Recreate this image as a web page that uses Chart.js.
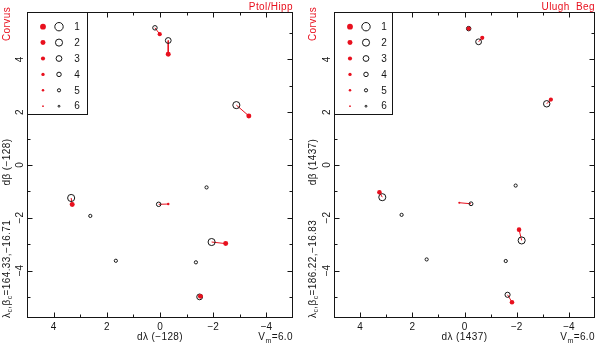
<!DOCTYPE html>
<html><head><meta charset="utf-8">
<script src="https://cdn.jsdelivr.net/npm/chart.js@4.4.1/dist/chart.umd.min.js"></script>
<style>
html,body{margin:0;padding:0;background:#fff;}
#wrap{position:relative;width:600px;height:345px;overflow:hidden;}
canvas{position:absolute;top:0;}
#c1{left:0;} #c2{left:300px;}
</style></head><body>
<div id="wrap"><canvas id="c1" width="300" height="345"></canvas><canvas id="c2" width="300" height="345"></canvas></div>
<script>
// ---------- data ----------
const legendMagnitudes = [1, 2, 3, 4, 5, 6];

// Ptolemy / Hipparchus panel: modern (open circles) and catalogue (red) positions
const ptolModernX = [0.19, -0.31, -2.87, 3.34, 2.62, 0.05, -1.75, -1.94, 1.66, -1.35, -1.49];
const ptolModernY = [5.20, 4.72, 2.27, -1.25, -1.93, -1.49, -0.85, -2.92, -3.63, -3.69, -5.00];
const ptolModernMag = [4, 3, 2, 2, 5, 4, 5, 2, 5, 5, 3];
const ptolCatX = [0.01, -0.31, -3.34, 3.30, -0.31, -2.47, -1.52];
const ptolCatY = [4.96, 4.20, 1.86, -1.50, -1.48, -2.98, -4.98];
const ptolCatMag = [3, 2, 2, 2, 5, 2, 2];
const ptolPairIdx = [0, 1, 2, 3, 5, 7, 10];

// Ulugh Beg panel
const ubModernX = [-0.16, -0.54, -3.15, 3.15, 2.41, -0.25, -1.96, -2.19, 1.45, -1.58, -1.65];
const ubModernY = [5.17, 4.67, 2.32, -1.22, -1.89, -1.47, -0.78, -2.86, -3.58, -3.64, -4.92];
const ubModernMag = [4, 3, 2.5, 2, 5, 4.5, 5, 2, 5, 5, 3.5];
const ubCatX = [-0.16, -0.68, -3.31, 3.26, 0.20, -2.09, -1.82];
const ubCatY = [5.17, 4.82, 2.48, -1.03, -1.43, -2.45, -5.20];
const ubCatMag = [3, 3, 3, 2.5, 5.5, 2.5, 2.5];
const ubPairIdx = [0, 1, 2, 3, 5, 7, 10];

// ---------- styling ----------
const RED = '#e8101e';
const INK = '#151515';
const FONT = '"Liberation Sans", Arial, Helvetica, sans-serif';
const openR = m => 4.2 - 0.65 * (m - 1);
const redR = m => 2.9 - 0.41 * (m - 1);
const fmt = v => (v < 0 ? '\u2212' + Math.abs(v) : String(v));

function buildDatasets(mx, my, mm, cx, cy, cm, pairs) {
  const ds = [];
  ds.push({
    data: cx.map((x, i) => ({x, y: cy[i]})),
    pointRadius: cm.map(redR), pointBackgroundColor: RED, pointBorderWidth: 0,
    pointBorderColor: RED, showLine: false
  });
  ds.push({
    data: mx.map((x, i) => ({x, y: my[i]})),
    pointRadius: mm.map(openR), pointBackgroundColor: 'rgba(0,0,0,0)', pointBorderWidth: 1,
    pointBorderColor: INK, showLine: false
  });
  pairs.forEach((j, i) => {
    ds.push({
      data: [{x: mx[j], y: my[j]}, {x: cx[i], y: cy[i]}],
      showLine: true, borderColor: RED, borderWidth: 1, pointRadius: 0
    });
  });
  return ds;
}

const panelPlugin = {
  id: 'panel',
  afterDraw(chart) {
    const o = chart.options.plugins.panel;
    const ctx = chart.ctx, a = chart.chartArea;
    const xs = chart.scales.x, ys = chart.scales.y;
    ctx.save();
    ctx.strokeStyle = INK; ctx.lineWidth = 1;
    const L = Math.round(a.left) + 0.5, R = Math.round(a.right) - 0.5;
    const T = Math.round(a.top) + 0.5, B = Math.round(a.bottom) - 0.5;
    const seg = (x1, y1, x2, y2) => { ctx.beginPath(); ctx.moveTo(x1, y1); ctx.lineTo(x2, y2); ctx.stroke(); };
    // inward ticks
    for (let v = -5; v <= 5; v++) {
      const len = v % 2 === 0 ? 5 : 3;
      if (Math.abs(v) < 5) {
        const px = Math.round(xs.getPixelForValue(v)) + 0.5;
        seg(px, B, px, B - len); seg(px, T, px, T + len);
      }
      const py = Math.round(ys.getPixelForValue(v)) + 0.5;
      seg(L, py, L + len, py); seg(R, py, R - len, py);
    }
    ctx.strokeRect(L, T, R - L, B - T);
    // legend box
    const lw = o.legendW, lh = 102;
    ctx.fillStyle = '#fff';
    ctx.fillRect(L, T, lw, lh);
    ctx.strokeRect(L, T, lw, lh);
    ctx.font = '10px ' + FONT; ctx.textAlign = 'center'; ctx.textBaseline = 'middle';
    legendMagnitudes.forEach((m, i) => {
      const y = a.top + 14.7 + i * 15.9;
      ctx.fillStyle = RED; ctx.beginPath(); ctx.arc(a.left + 16, y, redR(m), 0, Math.PI * 2); ctx.fill();
      ctx.strokeStyle = INK; ctx.beginPath(); ctx.arc(a.left + 32, y, openR(m), 0, Math.PI * 2); ctx.stroke();
      ctx.fillStyle = INK; ctx.fillText(String(m), a.left + 50, y + 0.5);
    });
    ctx.letterSpacing = '0.4px';
    // source title
    ctx.fillStyle = RED; ctx.textAlign = 'right'; ctx.textBaseline = 'alphabetic';
    ctx.fillText(o.source, a.right, 10);
    // x title
    ctx.fillStyle = INK; ctx.textAlign = 'center';
    ctx.fillText(o.xTitle, xs.getPixelForValue(0), 340);
    // Vm = 6.0
    ctx.textAlign = 'left';
    const w1 = ctx.measureText('=6.0').width;
    ctx.font = '7px ' + FONT;
    const wm = ctx.measureText('m').width;
    ctx.font = '10px ' + FONT;
    const wv = ctx.measureText('V').width;
    let sx = a.right - w1 - wm - wv;
    ctx.fillText('V', sx, 340); sx += wv;
    ctx.font = '7px ' + FONT; ctx.fillText('m', sx, 343); sx += wm;
    ctx.font = '10px ' + FONT; ctx.fillText('=6.0', sx, 340);
    // rotated left texts
    const rot = (cx, cy, fn) => { ctx.save(); ctx.translate(cx, cy); ctx.rotate(-Math.PI / 2); fn(); ctx.restore(); };
    rot(o.titleX, 24, () => { ctx.fillStyle = RED; ctx.textAlign = 'center'; ctx.textBaseline = 'middle'; ctx.font = '10px ' + FONT; ctx.fillText('Corvus', 0, 0); });
    rot(o.titleX, 162, () => { ctx.fillStyle = INK; ctx.textAlign = 'center'; ctx.textBaseline = 'middle'; ctx.font = '10px ' + FONT; ctx.fillText(o.yTitle, 0, 0); });
    rot(o.titleX, 318, () => {
      ctx.fillStyle = INK; ctx.textAlign = 'left'; ctx.textBaseline = 'middle';
      let x = 0;
      o.coordParts.forEach(([t, sub]) => {
        ctx.font = (sub ? '7px ' : '10px ') + FONT;
        ctx.fillText(t, x, sub ? 3 : 0);
        x += ctx.measureText(t).width;
      });
    });
    ctx.restore();
  }
};

function makeChart(id, datasets, yAxisW, rightPad, panel) {
  return new Chart(document.getElementById(id), {
    type: 'scatter',
    data: {datasets},
    plugins: [panelPlugin],
    options: {
      responsive: false, animation: false, devicePixelRatio: 1,
      layout: {padding: {top: 12, right: rightPad, left: 0, bottom: 0}},
      plugins: {legend: {display: false}, tooltip: {enabled: false}, panel},
      scales: {
        x: {
          type: 'linear', reverse: true, min: -5, max: 5,
          grid: {display: false, drawTicks: false}, border: {display: false},
          afterFit(s) { s.height = 27; },
          ticks: {
            stepSize: 1, autoSkip: false, padding: 3, maxRotation: 0, color: INK,
            font: {family: FONT, size: 10},
            callback: v => (Number.isInteger(v) && v % 2 === 0 && Math.abs(v) < 5) ? fmt(v) : ''
          }
        },
        y: {
          type: 'linear', min: -5.8, max: 5.8,
          grid: {display: false, drawTicks: false}, border: {display: false},
          afterFit(s) { s.width = yAxisW; },
          ticks: {
            stepSize: 1, autoSkip: false, minRotation: 90, maxRotation: 90, crossAlign: 'center',
            padding: 1.3, color: INK, font: {family: FONT, size: 10},
            callback: v => (Number.isInteger(v) && v % 2 === 0 && Math.abs(v) < 5) ? fmt(v) : ''
          }
        }
      }
    }
  });
}

makeChart('c1',
  buildDatasets(ptolModernX, ptolModernY, ptolModernMag, ptolCatX, ptolCatY, ptolCatMag, ptolPairIdx),
  27, 7,
  {source: 'Ptol/Hipp', xTitle: 'd\u03bb (\u2212128)', yTitle: 'd\u03b2 (\u2212128)', titleX: 7, legendW: 60,
   coordParts: [['\u03bb', 0], ['c', 1], [',\u03b2', 0], ['c', 1], ['=164.33,\u221216.71', 0]]});

makeChart('c2',
  buildDatasets(ubModernX, ubModernY, ubModernMag, ubCatX, ubCatY, ubCatMag, ubPairIdx),
  34, 2,
  {source: 'Ulugh  Beg', xTitle: 'd\u03bb (1437)', yTitle: 'd\u03b2 (1437)', titleX: 13, legendW: 58,
   coordParts: [['\u03bb', 0], ['c', 1], [',\u03b2', 0], ['c', 1], ['=186.22,\u221216.83', 0]]});
</script>
</body></html>
